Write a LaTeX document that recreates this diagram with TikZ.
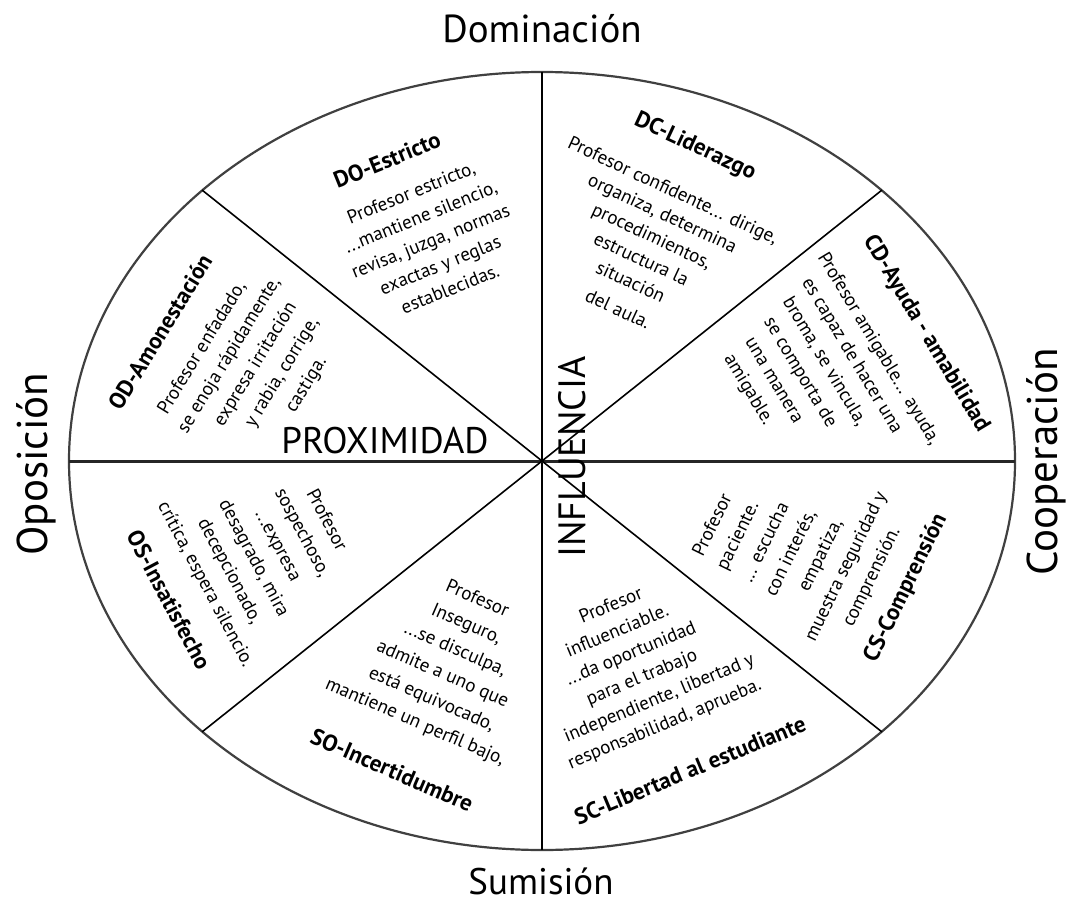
\documentclass[tikz,border=0pt]{standalone}
\usepackage{fontspec}
\setmainfont{PT Sans}
\newcommand\sft[2]{\hspace*{#1pt}#2\hspace*{-#1pt}}
\newcommand\bodytab[2]{\fontsize{19}{#1}\selectfont\begin{tabular}{@{}c@{}}#2\end{tabular}}
\begin{document}
\begin{tikzpicture}[x=1pt,y=-1pt,
  rim/.style={draw=black!75, line width=2.2pt},
  spoke/.style={draw=black, line width=1.6pt},
  hspoke/.style={draw=black!85, line width=3pt},
  ttl/.style={font=\bfseries\fontsize{23}{26}\selectfont, inner sep=0pt},
  txt/.style={inner sep=0pt},
  toplbl/.style={font=\fontsize{39}{44}\selectfont, inner sep=0pt},
  sidelbl/.style={font=\fontsize{43}{48}\selectfont, inner sep=0pt},
  biglbl/.style={font=\fontsize{37}{40}\selectfont, inner sep=0pt}]
\useasboundingbox (0,0) rectangle (1075,909);
\fill[white] (0,0) rectangle (1075,909);
% geometry
\coordinate (O) at (542,461);
\coordinate (T) at (542,72);
\coordinate (B) at (542,850);
\coordinate (L) at (69,461);
\coordinate (R) at (1015,461);
\coordinate (UL) at (202,190);
\coordinate (UR) at (882,190);
\coordinate (LL) at (202,732);
\coordinate (LR) at (882,732);
\draw[rim] (O) ellipse [x radius=473pt, y radius=389pt];
\draw[spoke] (T) -- (B);
\draw[hspoke] (L) -- (R);
\draw[spoke] (UL) -- (LR);
\draw[spoke] (UR) -- (LL);
% outer labels
\node[toplbl] (dom) at (542,29) {Dominación};
\node[toplbl, font=\fontsize{37}{42}\selectfont] (sum) at (541,881) {Sumisión};
\node[sidelbl, rotate=90] (opo) at (36,464) {Oposición};
\node[sidelbl, rotate=90] (coo) at (1046,462) {Cooperación};
\node[biglbl] (prox) at (385,441) {PROXIMIDAD};
\node[biglbl, font=\fontsize{38}{42}\selectfont, rotate=90] (infl) at (572,457) {INFLUENCIA};
% DO
\node[ttl, rotate=22] (do-t) at (387,160) {DO-Estricto};
\node[txt, rotate=22] (do-b) at (431,242) {\bodytab{26}{Profesor estricto,\\ ...mantiene silencio,\\ revisa, juzga, normas\\ exactas y reglas\\ establecidas.}};
% DC
\node[ttl, rotate=-25] (dc-t) at (695,147) {DC-Liderazgo};
\node[txt, rotate=-25] (dc-b) at (645,251) {\bodytab{25.2}{Profesor confidente... dirige,\\ organiza, determina\\ procedimientos,\\ estructura la\\ situación\\[5pt] del aula.}};
% CD
\node[ttl, rotate=-59] (cd-t) at (926,334) {CD-Ayuda - amabilidad};
\node[txt, rotate=-59] (cd-b) at (822,383) {\bodytab{26.5}{Profesor amigable... ayuda,\\ \sft{-8}{es capaz de hacer una}\\ \sft{-17}{broma, se vincula,}\\ \sft{-20}{se comporta de}\\ \sft{-27}{una manera}\\ \sft{-32}{amigable.}}};
% OD
\node[ttl, rotate=58.5] (od-t) at (160,332) {OD-Amonestación};
\node[txt, rotate=58.5] (od-b) at (248,376) {\bodytab{27}{Profesor enfadado,\\ \sft{8}{se enoja rápidamente,}\\ \sft{14}{expresa irritación}\\ \sft{21}{y rabia, corrige,}\\ \sft{23}{castiga.}}};
% OS
\node[ttl, rotate=-62] (os-t) at (169,600) {OS-Insatisfecho};
\node[txt, rotate=-62] (os-b) at (266,552) {\bodytab{27.4}{Profesor\\ sospechoso,\\ ...expresa\\ desagrado, mira\\ decepcionado,\\ crítica, espera silencio.}};
% SO
\node[ttl, rotate=-23.5] (so-t) at (392,770) {SO-Incertidumbre};
\node[txt, rotate=-23.5] (so-b) at (450,662) {\bodytab{27.5}{Profesor\\ Inseguro,\\ ...se disculpa,\\ \sft{-2}{admite a uno que}\\ \sft{-2}{está equivocado,}\\ \sft{-8}{mantiene un perfil bajo,}}};
% SC
\node[ttl, rotate=22.6] (sc-t) at (690,770) {SC-Libertad al estudiante};
\node[txt, rotate=22.6] (sc-b) at (636,666) {\bodytab{26}{Profesor\\ \sft{-4}{influenciable.}\\ ...da oportunidad\\ \sft{1}{para el trabajo}\\ \sft{9}{independiente, libertad y}\\ \sft{4}{responsabilidad, aprueba.}}};
% CS
\node[ttl, rotate=64] (cs-t) at (906,588) {CS-Comprensión};
\node[txt, rotate=64] (cs-b) at (787,561) {\bodytab{27.6}{Profesor\\ \sft{1}{paciente.}\\ \sft{7}{... escucha}\\ \sft{9}{con interés,}\\ \sft{20}{empatiza,}\\ \sft{21}{muestra seguridad y}\\ \sft{23}{comprensión.}}};
\end{tikzpicture}
\end{document}
